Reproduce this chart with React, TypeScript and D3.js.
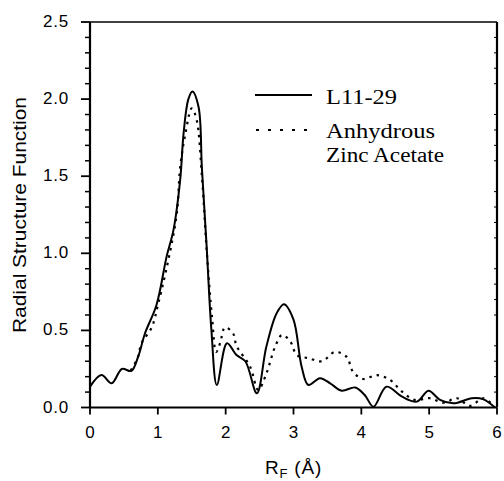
import React from "react";
import * as d3 from "d3";

// L11-29 (solid)
const rSolid = [0, 0.17, 0.32, 0.47, 0.61, 0.71, 0.81, 0.98, 1.13, 1.23, 1.33, 1.38, 1.45, 1.51, 1.6, 1.65, 1.72, 1.79, 1.87, 2.02, 2.16, 2.29, 2.46, 2.6, 2.75, 2.86, 3.0, 3.12, 3.22, 3.39, 3.54, 3.71, 3.91, 4.05, 4.18, 4.37, 4.6, 4.82, 4.99, 5.16, 5.36, 5.63, 5.8, 5.97];
const fSolid = [0.135, 0.21, 0.157, 0.25, 0.237, 0.33, 0.48, 0.665, 0.98, 1.15, 1.48, 1.78, 2.0, 2.05, 1.95, 1.55, 1.04, 0.5, 0.146, 0.417, 0.34, 0.3, 0.092, 0.395, 0.61, 0.67, 0.57, 0.265, 0.146, 0.19, 0.157, 0.109, 0.13, 0.081, 0.005, 0.135, 0.07, 0.038, 0.109, 0.049, 0.027, 0.06, 0.053, 0.0];

// Anhydrous Zinc Acetate (dotted)
const rDotted = [0.6, 0.7, 0.76, 0.91, 1.01, 1.18, 1.28, 1.33, 1.4, 1.5, 1.57, 1.65, 1.72, 1.8, 1.86, 1.92, 1.99, 2.11, 2.16, 2.36, 2.48, 2.6, 2.73, 2.83, 2.95, 3.05, 3.22, 3.42, 3.61, 3.78, 3.88, 4.03, 4.23, 4.42, 4.6, 4.79, 5.01, 5.21, 5.41, 5.6, 5.8, 5.95];
const fDotted = [0.24, 0.32, 0.417, 0.52, 0.68, 1.01, 1.26, 1.56, 1.76, 1.94, 1.87, 1.5, 1.02, 0.58, 0.36, 0.42, 0.52, 0.48, 0.4, 0.265, 0.114, 0.22, 0.395, 0.47, 0.43, 0.34, 0.32, 0.3, 0.36, 0.33, 0.23, 0.185, 0.21, 0.18, 0.103, 0.049, 0.06, 0.031, 0.06, 0.01, 0.06, 0.01];

const xTicks = [0, 1, 2, 3, 4, 5, 6];
const yTicks = [0, 0.5, 1.0, 1.5, 2.0, 2.5];
const yMinor = d3.range(0, 25).map((i) => i / 10).filter((v) => Math.round(v * 10) % 5 !== 0);

const x = d3.scaleLinear().domain([0, 6]).range([90, 497]);
const y = d3.scaleLinear().domain([0, 2.5]).range([407.5, 22]);

const line = d3
  .line<[number, number]>()
  .x((d) => x(d[0]))
  .y((d) => y(d[1]))
  .curve(d3.curveCatmullRom.alpha(0.5));

const sans = "'Liberation Sans', Arial, sans-serif";
const serif = "'Liberation Serif', 'Times New Roman', serif";

export default function App() {
  const solid = rSolid.map((r, i) => [r, fSolid[i]] as [number, number]);
  const dotted = rDotted.map((r, i) => [r, fDotted[i]] as [number, number]);

  return (
    <svg width={504} height={481} style={{ position: "absolute", left: 0, top: 0, background: "#fff" }}>
      {/* frame */}
      <line x1={x(0)} x2={x(6)} y1={y(2.5)} y2={y(2.5)} stroke="#000" strokeWidth={1.6} />
      <line x1={x(0)} x2={x(0)} y1={y(2.5)} y2={y(0)} stroke="#000" strokeWidth={2.2} />
      <line x1={x(0)} x2={x(6)} y1={y(0)} y2={y(0)} stroke="#000" strokeWidth={2.2} />
      <line x1={x(6)} x2={x(6)} y1={y(2.5)} y2={y(0)} stroke="#000" strokeWidth={2.2} />

      {/* y ticks */}
      {yTicks.map((t) => (
        <g key={"y" + t}>
          <line x1={x(0) - 9} x2={x(0)} y1={y(t)} y2={y(t)} stroke="#000" strokeWidth={1.8} />
          <text x={69} y={y(t) + 5} textAnchor="end" fontFamily={sans} fontSize={17} letterSpacing={0.8}>
            {t.toFixed(1)}
          </text>
        </g>
      ))}
      {yMinor.map((t) => (
        <g key={"ym" + t}>
          <line x1={x(0) - 5} x2={x(0)} y1={y(t)} y2={y(t)} stroke="#000" strokeWidth={1.5} />
          <line x1={x(6) - 3} x2={x(6)} y1={y(t)} y2={y(t)} stroke="#000" strokeWidth={1} />
        </g>
      ))}

      {/* x ticks */}
      {xTicks.map((t) => (
        <g key={"x" + t}>
          <line x1={x(t)} x2={x(t)} y1={y(0)} y2={y(0) + 7} stroke="#000" strokeWidth={1.8} />
          <text x={x(t)} y={438} textAnchor="middle" fontFamily={sans} fontSize={17}>
            {t}
          </text>
        </g>
      ))}

      {/* axis titles */}
      <text
        transform="translate(26,215) rotate(-90)"
        textAnchor="middle"
        fontFamily={sans}
        fontSize={19}
        textLength={236}
        lengthAdjust="spacingAndGlyphs"
      >
        Radial Structure Function
      </text>
      <text x={x(3)} y={474} textAnchor="middle" fontFamily={sans} fontSize={19} letterSpacing={0.8}>
        R<tspan fontSize={13} dy={4}>F</tspan>
        <tspan dy={-4}> (Å)</tspan>
      </text>

      {/* curves */}
      <path d={line(dotted) || ""} fill="none" stroke="#000" strokeWidth={2.2} strokeDasharray="2.5,5" />
      <path d={line(solid) || ""} fill="none" stroke="#000" strokeWidth={2} />

      {/* legend */}
      <line x1={255} x2={312} y1={95} y2={95} stroke="#000" strokeWidth={2} />
      <text x={326} y={104} fontFamily={serif} fontSize={20} textLength={71} lengthAdjust="spacingAndGlyphs">L11-29</text>
      <line x1={256} x2={312} y1={130} y2={130} stroke="#000" strokeWidth={2.2} strokeDasharray="3,9" />
      <text x={326} y={138} fontFamily={serif} fontSize={20} textLength={109} lengthAdjust="spacingAndGlyphs">Anhydrous</text>
      <text x={326} y={161.5} fontFamily={serif} fontSize={20} textLength={118} lengthAdjust="spacingAndGlyphs">Zinc Acetate</text>
    </svg>
  );
}
